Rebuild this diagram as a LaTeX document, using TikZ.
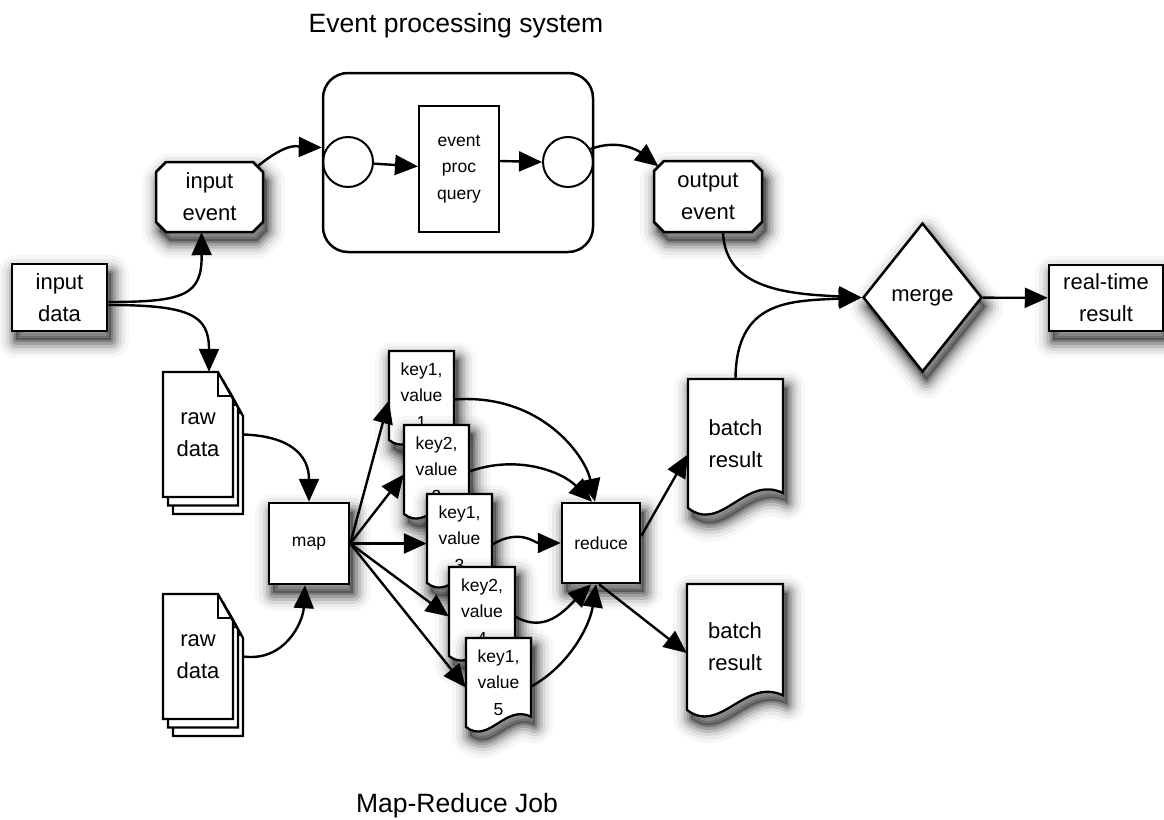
\documentclass[tikz,border=0pt]{standalone}
\usepackage{fontspec}
\setmainfont{Liberation Sans}
\usetikzlibrary{arrows.meta,shapes.geometric}

% document sheet with a wavy lower edge: name, left x, top y, width, height, text
\newcommand\docnode[6]{%
  \path[docline] (#2,#3) -- ++(#4,0) -- ++(0,{0.884*#5})
    .. controls ({#2+0.6*#4},{#3+0.74*#5}) and ({#2+0.35*#4},{#3+1.2*#5}) .. (#2,{#3+#5}) -- cycle;
  \node[txtnode, minimum width=#4pt, minimum height=#5pt] (#1) at ({#2+#4/2},{#3+#5/2}) {#6};}

% rectangle with cut corners: name, centre x, centre y, width, height, text
\newcommand\octnode[6]{%
  \path[octline] ({#2-#4/2+10},{#3-#5/2}) -- ({#2+#4/2-10},{#3-#5/2}) -- ({#2+#4/2},{#3-#5/2+10})
    -- ({#2+#4/2},{#3+#5/2-10}) -- ({#2+#4/2-10},{#3+#5/2}) -- ({#2-#4/2+10},{#3+#5/2})
    -- ({#2-#4/2},{#3+#5/2-10}) -- ({#2-#4/2},{#3-#5/2+10}) -- cycle;
  \node[txtnode, bigfont, minimum width=#4pt, minimum height=#5pt] (#1) at (#2,#3) {#6};}

% one sheet of a stack with a folded corner: left x, top y
\newcommand\rawpage[2]{%
  \path[pageline] (#1,#2) -- ++(55,0) -- ++(15,27) -- ++(0,98) -- ++(-70,0) -- cycle;
  \draw[pagefold] ({#1+55},#2) -- ++(0,24) -- ++(13.3,0);}

\tikzset{
  % soft drop shadow built from stacked translucent strokes
  shadowlayer/.style={transform canvas={xshift=4pt,yshift=-9pt}, line join=round},
  dropshadow/.style={
    preaction={shadowlayer, fill=black, opacity=0.3},
    preaction={shadowlayer, draw=black, opacity=0.2, line width=4pt},
    preaction={shadowlayer, draw=black, opacity=0.16, line width=9pt},
    preaction={shadowlayer, draw=black, opacity=0.12, line width=15pt},
    preaction={shadowlayer, draw=black, opacity=0.08, line width=21pt},
    preaction={shadowlayer, draw=black, opacity=0.05, line width=28pt},
    preaction={shadowlayer, draw=black, opacity=0.03, line width=36pt}},
  boxline/.style={draw, fill=white, line width=2.5pt},
  docline/.style={dropshadow, boxline, line width=2.3pt},
  octline/.style={dropshadow, boxline},
  pageline/.style={draw, fill=white, line width=2.3pt},
  pagefold/.style={line width=2pt},
  txtnode/.style={inner sep=0pt, align=center},
  bigfont/.style={font=\fontsize{22}{32}\selectfont},
  smallfont/.style={font=\fontsize{17.5}{26.5}\selectfont},
  titlefont/.style={font=\fontsize{26.5}{30}\selectfont},
  conn/.style={line width=2.4pt, -{Triangle[length=23pt,width=20pt]}}
}

\begin{document}
\begin{tikzpicture}[x=1pt, y=-1pt]
\useasboundingbox (0,0) rectangle (1164,819);

% headings
\node[titlefont, inner sep=0pt, anchor=base] (eventtitle) at (456,32) {Event processing system};
\node[titlefont, inner sep=0pt, anchor=base] (mrtitle) at (457,812) {Map-Reduce Job};

% event processing system
\node[draw, line width=2.5pt, rounded corners=25pt, minimum width=270pt, minimum height=179pt,
      inner sep=0pt] (eps) at (458,162.5) {};
\node[draw, circle, line width=2pt, minimum size=50pt, inner sep=0pt] (cin) at (348,162) {};
\node[draw, circle, line width=2pt, minimum size=50pt, inner sep=0pt] (cout) at (568,162) {};
\node[draw, line width=2pt, txtnode, smallfont, minimum width=80pt, minimum height=126pt]
      (epq) at (459,169) {event\\proc\\query};

\octnode{inev}{209.5}{197}{107}{70}{input\\event}
\octnode{outev}{708}{196.5}{108}{71}{output\\event}

% input data
\node[dropshadow, boxline, txtnode, bigfont, minimum width=95pt, minimum height=67pt]
      (indata) at (59.5,297.5) {input\\data};

% raw data stacks
\rawpage{173}{389}
\rawpage{168}{380.5}
\rawpage{163}{372}
\node[txtnode, bigfont, minimum width=70pt, minimum height=125pt] (raw1) at (198,434.5) {raw\\data};
\rawpage{173}{611}
\rawpage{168}{602.5}
\rawpage{163}{594}
\node[txtnode, bigfont, minimum width=70pt, minimum height=125pt] (raw2) at (198,656.5) {raw\\data};

% map and reduce
\node[dropshadow, boxline, txtnode, smallfont, minimum width=80pt, minimum height=81pt]
      (map) at (309,543.5) {map};
\node[dropshadow, boxline, txtnode, smallfont, minimum width=78pt, minimum height=80pt]
      (red) at (601,543) {reduce};

% intermediate key/value sheets
\begin{scope}[smallfont]
\docnode{kv1}{389}{351}{65}{89}{key1,\\value\\1}
\docnode{kv2}{404}{425}{65}{89}{key2,\\value\\2}
\docnode{kv3}{427}{494}{65}{89}{key1,\\value\\3}
\docnode{kv4}{449}{567}{66}{89}{key2,\\value\\4}
\docnode{kv5}{466}{638}{65}{89}{key1,\\value\\5}
\end{scope}

% batch results
\begin{scope}[bigfont]
\docnode{b1}{688}{379}{95}{129}{batch\\result}
\docnode{b2}{687}{584}{96}{126}{batch\\result}
\end{scope}

% merge and real-time result
\node[dropshadow, boxline, diamond, inner sep=0pt, bigfont, minimum width=119pt, minimum height=149pt]
      (merge) at (922.5,297.5) {merge};
\node[dropshadow, boxline, txtnode, bigfont, minimum width=114pt, minimum height=66pt]
      (rt) at (1106,298) {real-time\\result};

% connectors: event path
\draw[conn] ([yshift=-4.5pt]indata.east) .. controls (185,302) and (202,295) .. ([xshift=-8pt]inev.south);
\draw[conn] ([xshift=-5pt,yshift=-4pt]inev.north east) .. controls (290,140) and (300,147) .. ([yshift=15pt]eps.west);
\draw[conn] (cin) -- (epq);
\draw[conn] ([yshift=8pt]epq.east) -- (cout.west);
\draw[conn] (cout.30) .. controls (620,138) and (640,152) .. ([xshift=4.5pt,yshift=-5.5pt]outev.north west);
\draw[conn] ([xshift=15pt]outev.south) .. controls (725,290) and (790,294) .. (merge.west);
\draw[conn] (merge) -- (rt);

% connectors: batch path
\draw[conn] ([yshift=-7.5pt]indata.east) .. controls (190,305) and (209,315) .. ([xshift=11pt]raw1.north);
\draw[conn] ([xshift=10pt]raw1.east) .. controls (290,436) and (309,455) .. (map.north);
\draw[conn] ([xshift=10pt]raw2.east) .. controls (285,662) and (303,622) .. ([xshift=-4pt]map.south);
\foreach \k in {kv1,kv2,kv3,kv4,kv5}
  \draw[conn] (map.east) -- ([yshift=-5pt]\k.west);
\draw[conn] ([yshift=-4pt]kv1.east) .. controls (540,393) and (585,455) .. ([xshift=-6pt]red.north);
\draw[conn] ([yshift=-2pt]kv2.east) .. controls (515,455) and (560,470) .. ([xshift=-9pt]red.north);
\draw[conn] ([yshift=-6pt]kv3.east) .. controls (520,528) and (535,543) .. (red.west);
\draw[conn] ([yshift=-5pt]kv4.east) .. controls (545,634) and (565,610) .. ([xshift=-10pt]red.south);
\draw[conn] ([yshift=-4pt]kv5.east) .. controls (570,665) and (590,625) .. ([xshift=-5pt]red.south);
\draw[conn] ([yshift=7pt]red.east) -- ([yshift=-11pt]b1.west);
\draw[conn] ([xshift=-2pt]red.south) -- ([yshift=-6pt]b2.west);
\draw[conn] (b1.north) .. controls (736,300) and (790,301) .. (merge.west);
\end{tikzpicture}
\end{document}
